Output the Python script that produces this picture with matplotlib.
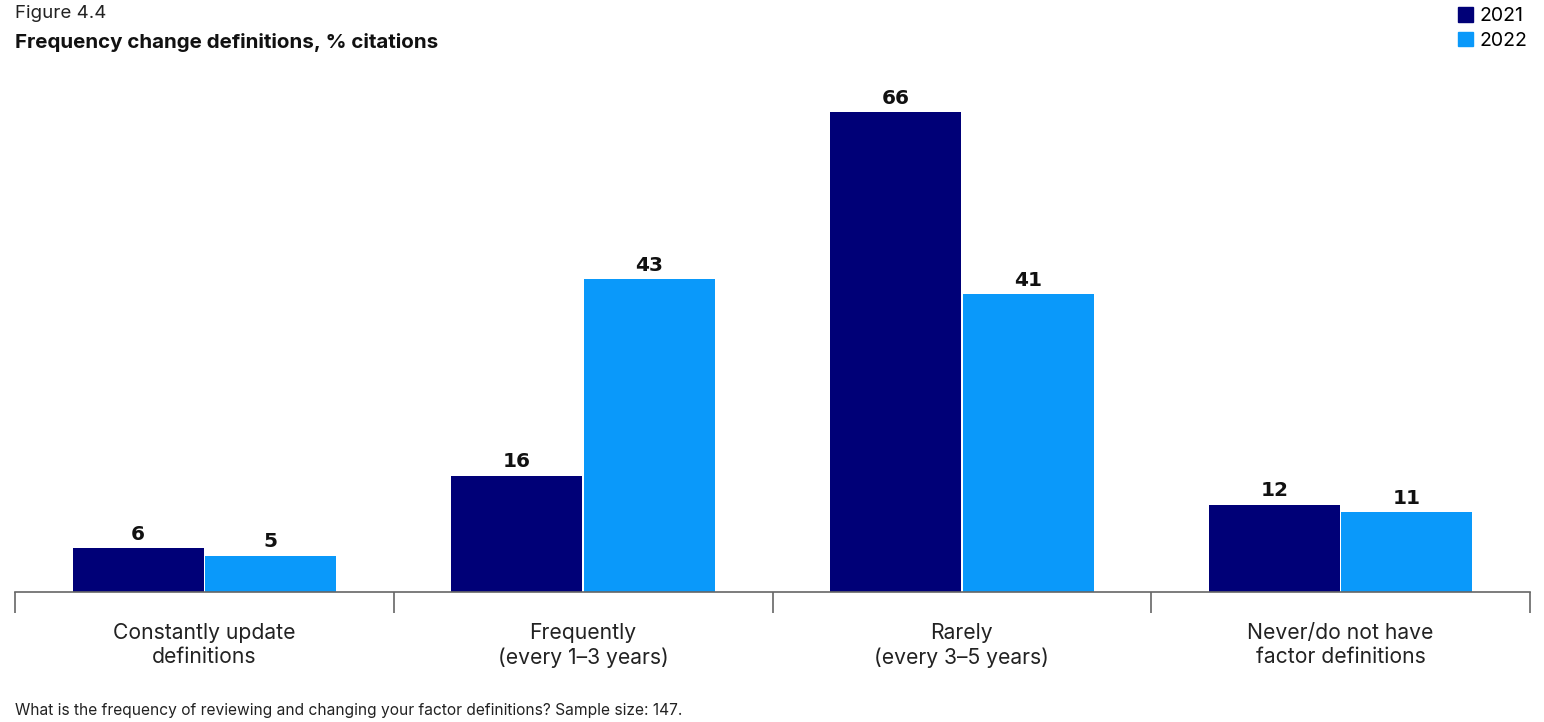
import numpy as np
import matplotlib.pyplot as plt
from matplotlib.patches import Patch

categories = ['Constantly update\ndefinitions', 'Frequently\n(every 1\u20133 years)',
              'Rarely\n(every 3\u20135 years)', 'Never/do not have\nfactor definitions']
vals_2021 = [6, 16, 66, 12]
vals_2022 = [5, 43, 41, 11]
series = ['2021', '2022']
colors = ['#000077', '#0A99FA']

plt.rcParams['font.family'] = ['Inter', 'DejaVu Sans']

fig = plt.figure(figsize=(15.44, 7.22), dpi=100)
ax = fig.add_axes([15/1544, 1 - 592/722, (1530-15)/1544, (592-83)/722])

x = np.arange(len(categories))
w = 0.346
for off, vals, c in [(-0.175, vals_2021, colors[0]), (0.175, vals_2022, colors[1])]:
    bars = ax.bar(x + off, vals, w, color=c, edgecolor='none')
    for b, v in zip(bars, vals):
        ax.text(b.get_x() + b.get_width()/2, v + 0.6, str(v), ha='center', va='bottom',
                fontsize=14.5, fontweight='bold', family=['DejaVu Sans'], color='#111111')

ax.set_xlim(-0.5, 3.5)
ax.set_ylim(0, 70)
ax.set_yticks([])
for s in ['top', 'right', 'left']:
    ax.spines[s].set_visible(False)
ax.spines['bottom'].set_color('#666666')
ax.spines['bottom'].set_linewidth(1.2)

ax.set_xticks(np.arange(-0.5, 4, 1))
ax.set_xticklabels([])
ax.tick_params(axis='x', which='major', length=15, width=1.2, color='#666666')
ax.set_xticks(x, minor=True)
ax.set_xticklabels(categories, minor=True, fontsize=15.2, color='#222222', linespacing=1.3)
ax.tick_params(axis='x', which='minor', length=0, pad=22)

fig.text(15/1544, 1 - 14/722, 'Figure 4.4', fontsize=13.5, color='#222222', va='center')
fig.text(15/1544, 1 - 42/722, 'Frequency change definitions, % citations', fontsize=14.8,
         fontweight='bold', color='#111111', va='center')
fig.text(15/1544, 1 - 711/722, 'What is the frequency of reviewing and changing your factor definitions? Sample size: 147.',
         fontsize=11.2, color='#222222', va='center')

handles = [Patch(color=c) for c in colors]
fig.legend(handles, series, loc='upper right', bbox_to_anchor=(1539/1544, 1.006), frameon=False,
           handlelength=0.75, handleheight=0.75, handletextpad=0.35, fontsize=14, labelspacing=0.35,
           borderaxespad=0.2)

fig.savefig('out.png', dpi=100)
